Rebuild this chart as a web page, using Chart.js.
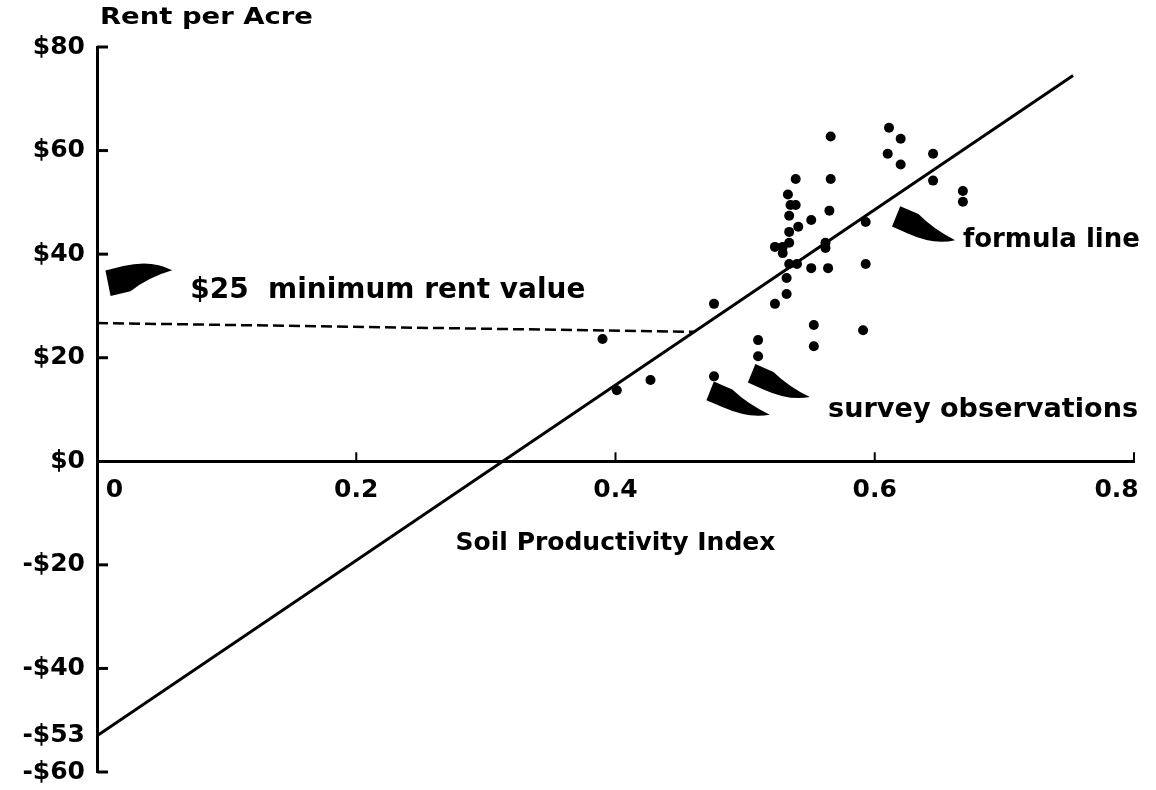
<!DOCTYPE html>
<html>
<head>
<meta charset="utf-8">
<script src="https://cdn.jsdelivr.net/npm/chart.js@4/dist/chart.umd.min.js"></script>
<style>
  html, body { margin: 0; padding: 0; background: #fff; }
  #wrap { width: 1156px; height: 790px; }
</style>
</head>
<body>
<div id="wrap"><canvas id="mycanvas"></canvas></div>
<script>
// tick labels
var xTicks = [0, 0.2, 0.4, 0.6, 0.8];
var yTicks = [80, 60, 40, 20, 0, -20, -40, -53, -60];

// survey observations (soil productivity index, rent per acre)
var surveyX = [0.566, 0.539, 0.566, 0.533, 0.535, 0.539, 0.565, 0.534, 0.551, 0.541,
               0.534, 0.593, 0.562, 0.562, 0.523, 0.529, 0.534, 0.529, 0.534, 0.540,
               0.551, 0.564, 0.593, 0.532, 0.532, 0.523, 0.476, 0.553, 0.553, 0.591,
               0.510, 0.510, 0.401, 0.427, 0.476, 0.611, 0.620, 0.610, 0.620, 0.645,
               0.645, 0.668, 0.668, 0.390];
var surveyY = [62.7, 54.5, 54.5, 51.5, 49.5, 49.5, 48.4, 47.4, 46.6, 45.3,
               44.3, 46.2, 42.2, 41.2, 41.4, 41.4, 42.2, 40.2, 38.1, 38.1,
               37.3, 37.3, 38.1, 35.4, 32.3, 30.4, 30.4, 26.3, 22.2, 25.3,
               23.4, 20.3, 13.7, 15.7, 16.4, 64.4, 62.3, 59.4, 57.3, 59.4,
               54.2, 52.2, 50.1, 23.6];

// formula line and the minimum rent line
var formulaX = [0, 0.753];
var formulaY = [-53, 74.5];
var minRentX = [0, 0.4615];
var minRentY = [26.7, 25];

var FONT = '"DejaVu Sans", "Liberation Sans", sans-serif';

// notes: text in data units, w = width in px
var notes = [
  { text: 'Rent per Acre', x: 0.0023, y: 85.5, size: 23, w: 213 },
  { text: '$25  minimum rent value', x: 0.072, y: 33.0, size: 28, w: 395 },
  { text: 'formula line', x: 0.668, y: 42.7, size: 26, w: 177 },
  { text: 'survey observations', x: 0.564, y: 9.8, size: 26, w: 310 }
];

// curved arrows: tip and tail in data units, side = which way it bulges
var arrows = [
  { tx: 0.0085, ty: 34.4, ex: 0.058, ey: 36.9, hw: 13, side: -1 },
  { tx: 0.6165, ty: 47.3, ex: 0.662, ey: 42.7, hw: 11, side: 1 },
  { tx: 0.473, ty: 13.6, ex: 0.519, ey: 9.0, hw: 10, side: 1 },
  { tx: 0.505, ty: 17.0, ex: 0.550, ey: 12.4, hw: 10, side: 1 }
];

function points(xs, ys) {
  var out = [];
  for (var i in xs) {
    out.push({ x: xs[i], y: ys[i] });
  }
  return out;
}

// blunt head at the tip, tapering body that curves to the tail
function drawArrow(ctx, T, E, hw, side) {
  var dx = E.x - T.x, dy = E.y - T.y;
  var L = Math.sqrt(dx * dx + dy * dy);
  var ux = dx / L, uy = dy / L;
  var nx = -uy, ny = ux;
  function P(s, t) {
    s = s * L / 64;
    t = t * hw / 9.5 * side;
    return [T.x + ux * s + nx * t, T.y + uy * s + ny * t];
  }
  var p0 = P(0, -9.5), p1 = P(20, -9), c1 = P(40, -1.5), e = P(64, 0);
  var c2 = P(46, 11), p2 = P(18, 10), p3 = P(0, 9.5);
  ctx.beginPath();
  ctx.moveTo(p0[0], p0[1]);
  ctx.lineTo(p1[0], p1[1]);
  ctx.quadraticCurveTo(c1[0], c1[1], e[0], e[1]);
  ctx.quadraticCurveTo(c2[0], c2[1], p2[0], p2[1]);
  ctx.lineTo(p3[0], p3[1]);
  ctx.closePath();
  ctx.fill();
}

function drawNote(ctx, n, px, py) {
  ctx.save();
  ctx.font = 'bold ' + n.size + 'px ' + FONT;
  var w = ctx.measureText(n.text).width;
  ctx.translate(px, py);
  ctx.scale(n.w / w, 1);
  ctx.textBaseline = 'middle';
  ctx.textAlign = 'left';
  ctx.fillStyle = '#000';
  ctx.fillText(n.text, 0, 0);
  ctx.restore();
}

var extras = {
  id: 'extras',
  afterDatasetsDraw: function(chart) {
    var ctx = chart.ctx;
    var xs = chart.scales.x, ys = chart.scales.y;
    var left = xs.getPixelForValue(0);
    var zero = ys.getPixelForValue(0);
    ctx.save();
    ctx.strokeStyle = '#000';
    ctx.fillStyle = '#000';
    // inward ticks on the y axis
    ctx.lineWidth = 3;
    yTicks.forEach(function(v) {
      if (v === 0 || v === -53) return;
      var py = ys.getPixelForValue(v);
      ctx.beginPath();
      ctx.moveTo(left, py);
      ctx.lineTo(left + 11, py);
      ctx.stroke();
    });
    // upward ticks on the x axis
    ctx.lineWidth = 2;
    xTicks.forEach(function(v) {
      if (v === 0) return;
      var px = xs.getPixelForValue(v);
      ctx.beginPath();
      ctx.moveTo(px, zero);
      ctx.lineTo(px, zero - 9);
      ctx.stroke();
    });
    arrows.forEach(function(a) {
      drawArrow(ctx,
        { x: xs.getPixelForValue(a.tx), y: ys.getPixelForValue(a.ty) },
        { x: xs.getPixelForValue(a.ex), y: ys.getPixelForValue(a.ey) },
        a.hw, a.side);
    });
    notes.forEach(function(n) {
      drawNote(ctx, n, xs.getPixelForValue(n.x), ys.getPixelForValue(n.y));
    });
    ctx.restore();
  }
};

var ctx = document.getElementById('mycanvas');

var chart = new Chart(ctx, {
  type: 'scatter',
  data: {
    datasets: [
      {
        label: 'survey observations',
        data: points(surveyX, surveyY),
        backgroundColor: '#000',
        borderColor: '#000',
        pointRadius: 5,
        pointBorderWidth: 0
      },
      {
        label: 'formula line',
        data: points(formulaX, formulaY),
        showLine: true,
        borderColor: '#000',
        borderWidth: 3,
        pointRadius: 0
      },
      {
        label: '$25 minimum rent value',
        data: points(minRentX, minRentY),
        showLine: true,
        borderColor: '#000',
        borderWidth: 2.5,
        borderDash: [11, 5],
        pointRadius: 0
      }
    ]
  },
  options: {
    responsive: true,
    maintainAspectRatio: false,
    animation: false,
    layout: { padding: { left: 0, top: 47, right: 22, bottom: 18 } },
    plugins: {
      legend: { display: false },
      tooltip: { enabled: false }
    },
    scales: {
      x: {
        type: 'linear',
        min: 0,
        max: 0.8,
        position: { y: 0 },
        afterBuildTicks: function(scale) {
          scale.ticks = xTicks.map(function(v) { return { value: v }; });
        },
        afterFit: function(scale) {
          scale.paddingLeft = 0;
          scale.paddingRight = 0;
        },
        grid: { display: false, drawTicks: false },
        border: { display: true, width: 3, color: '#000' },
        ticks: {
          padding: 14,
          color: '#000',
          font: { family: FONT, size: 25, weight: 'bold' },
          callback: function(v) {
            if (v === 0) return '    0';
            if (v === 0.8) return '0.8    ';
            return v.toFixed(1);
          }
        },
        title: {
          display: true,
          text: 'Soil Productivity Index',
          color: '#000',
          padding: { top: 9 },
          font: { family: FONT, size: 25, weight: 'bold' }
        }
      },
      y: {
        type: 'linear',
        min: -60,
        max: 80,
        position: 'left',
        afterBuildTicks: function(scale) {
          scale.ticks = yTicks.map(function(v) { return { value: v }; });
        },
        afterFit: function(scale) {
          scale.width = 97;
          scale.paddingTop = 0;
          scale.paddingBottom = 0;
        },
        grid: { display: false, drawTicks: false },
        border: { display: true, width: 3, color: '#000' },
        ticks: {
          padding: 12,
          color: '#000',
          font: { family: FONT, size: 25, weight: 'bold' },
          callback: function(v) { return (v < 0 ? '-$' : '$') + Math.abs(v); }
        }
      }
    }
  },
  plugins: [extras]
});
</script>
</body>
</html>
